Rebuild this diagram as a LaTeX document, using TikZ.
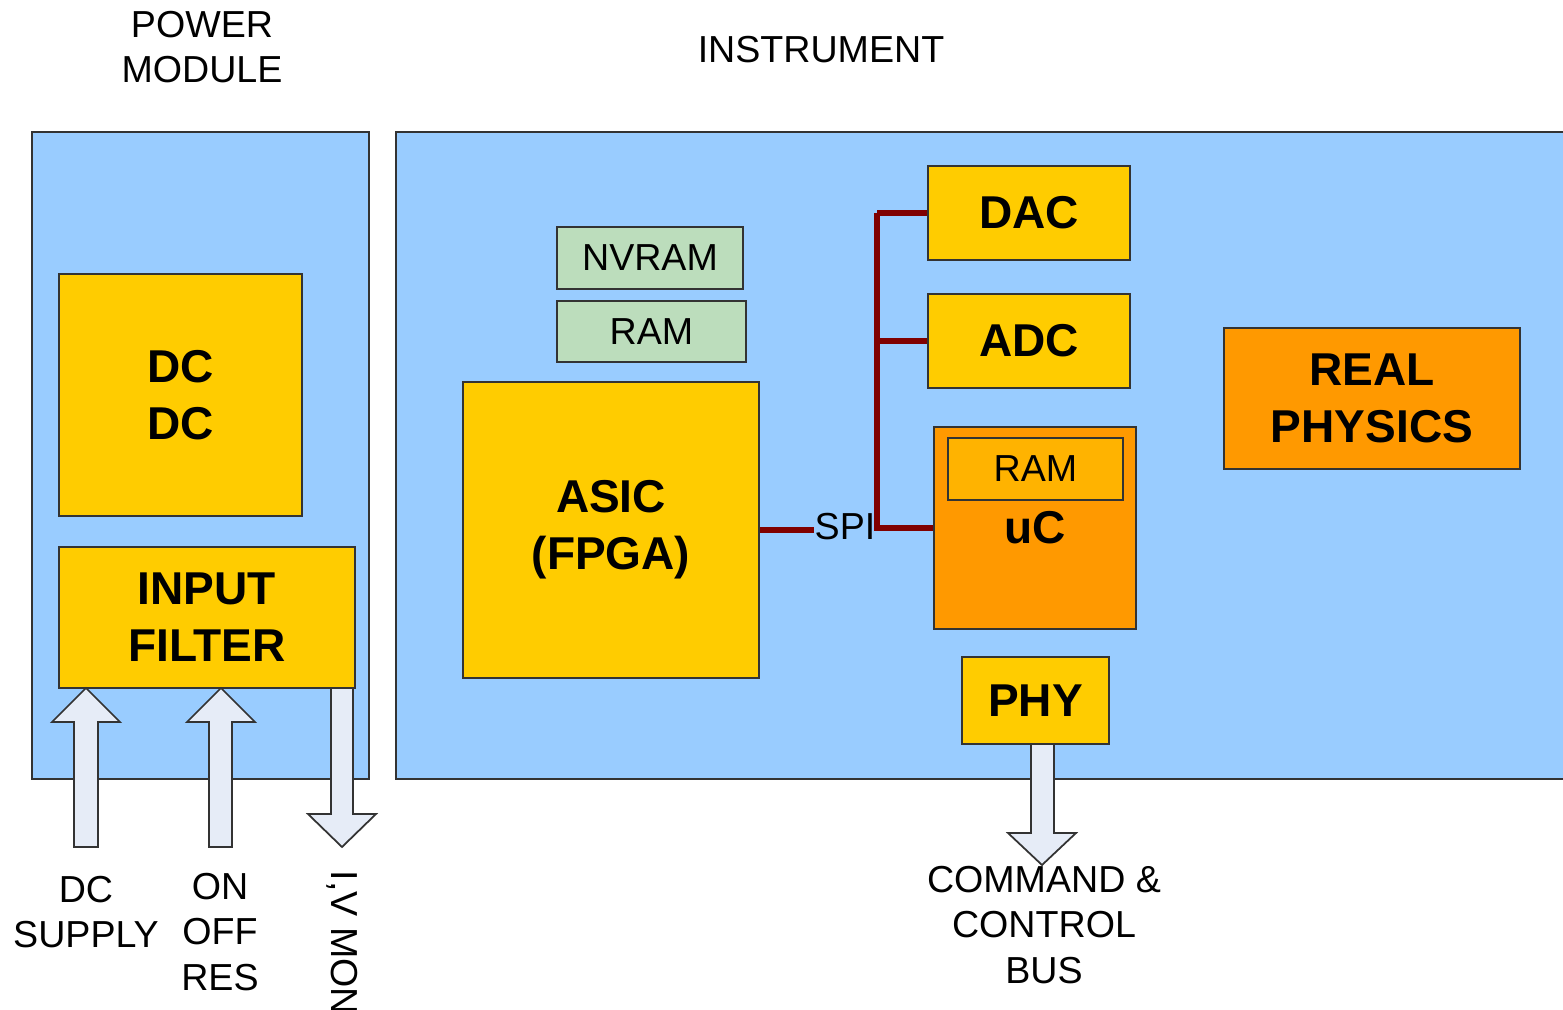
\documentclass[tikz,border=0pt]{standalone}
\usepackage{fontspec}
\setmainfont{Liberation Sans}
\usetikzlibrary{fit}
\definecolor{panelblue}{HTML}{99CCFF}
\definecolor{gold}{HTML}{FFCC00}
\definecolor{amber}{HTML}{FF9900}
\definecolor{amberlight}{HTML}{FFB300}
\definecolor{sage}{HTML}{BCDDBC}
\definecolor{busred}{HTML}{800000}
\definecolor{arrowfill}{HTML}{E6ECF7}
\newcommand\lblfont{\fontsize{10.7}{12.9}\selectfont}
\newcommand\blkfont{\fontsize{13.1}{16.2}\selectfont\bfseries}
\tikzset{
  outline/.style={draw=black!80, line width=0.5pt},
  box/.style={outline, inner sep=0pt},
  block/.style={box, fill=gold},
  hotblock/.style={box, fill=amber},
  memory/.style={box, fill=sage},
  blocktext/.style={align=center, font=\blkfont, inner sep=0pt},
  caption/.style={align=center, font=\lblfont, inner sep=0pt},
  bus/.style={draw=busred, line width=1.45pt},
  fatarrow/.style={outline, fill=arrowfill, line join=miter}
}
\begin{document}
\begin{tikzpicture}[x=0.1mm, y=-0.1mm]
  \clip (0,0) rectangle (1563,1010);
  \fill[white] (0,0) rectangle (1563,1010);

  % enclosures
  \fill[panelblue] (32,132) rectangle (369,779);
  \draw[outline] (32,132) rectangle (369,779);
  \fill[panelblue] (396,132) rectangle (1580,779);
  \draw[outline] (1580,132) -- (396,132) -- (396,779) -- (1580,779);

  \node[caption] (pmtitle) at (202,47) {POWER\\MODULE};
  \node[caption] (insttitle) at (821,50) {INSTRUMENT};

  % power module
  \node[block, fit={(59,274) (302,516)}] (dcdc) {};
  \node[blocktext] (dcdctext) at (dcdc.center) {DC\\DC};
  \node[block, fit={(59,547) (355,688)}] (filter) {};
  \node[blocktext] (filtertext) at (filter.center) {INPUT\\FILTER};

  % instrument
  \node[memory, fit={(557,227) (743,289)}] (nvram) {};
  \node[caption] (nvramtext) at (nvram.center) {NVRAM};
  \node[memory, fit={(557,301) (746,362)}] (ram) {};
  \node[caption] (ramtext) at (ram.center) {RAM};
  \node[block, fit={(463,382) (759,678)}] (asic) {};
  \node[blocktext] (asictext) at (asic.center) {ASIC\\(FPGA)};
  \node[block, fit={(928,166) (1130,260)}] (dac) {};
  \node[blocktext] (dactext) at (dac.center) {DAC};
  \node[block, fit={(928,294) (1130,388)}] (adc) {};
  \node[blocktext] (adctext) at (adc.center) {ADC};
  \node[hotblock, fit={(934,427) (1136,629)}] (uc) {};
  \node[blocktext] (uctext) at (uc.center) {uC};
  \node[box, fill=amberlight, fit={(948,438) (1123,500)}] (ucram) {};
  \node[caption] (ucramtext) at (ucram.center) {RAM};
  \node[block, fit={(962,657) (1109,744)}] (phy) {};
  \node[blocktext] (phytext) at (phy.center) {PHY};
  \node[hotblock, fit={(1224,328) (1520,469)}] (physics) {};
  \node[blocktext] (physicstext) at (physics.center) {REAL\\PHYSICS};

  % SPI bus
  \node[caption] (spi) at (845,527) {SPI};
  \coordinate (bustop) at (877,213);
  \coordinate (busadc) at (877,341);
  \coordinate (busbot) at (877,528);
  \draw[bus] (asic.east) -- (asic.east -| spi.west);
  \draw[bus] (bustop) -- (busbot) -- (uc.west);
  \draw[bus] (bustop) -- (dac.west);
  \draw[bus] (busadc) -- (adc.west);

  % block arrows
  \draw[fatarrow] (86,688) -- (120,722) -- (98,722) -- (98,847) -- (74,847)
    -- (74,722) -- (52,722) -- cycle;
  \draw[fatarrow] (221,688) -- (255,722) -- (232,722) -- (232,847) -- (209,847)
    -- (209,722) -- (187,722) -- cycle;
  \draw[fatarrow] (331,688) -- (353,688) -- (353,814) -- (376,814) -- (342,847)
    -- (308,814) -- (331,814) -- cycle;
  \draw[fatarrow] (1031,744) -- (1054,744) -- (1054,833) -- (1076,833) -- (1042,865)
    -- (1008,833) -- (1031,833) -- cycle;

  % external signal labels
  \node[caption] (dcsupply) at (86,912) {DC\\SUPPLY};
  \node[caption] (onoff) at (220,932) {ON\\OFF\\RES};
  \node[caption, rotate=-90, anchor=west] (ivmon) at (342,870) {I,V MON};
  \node[caption] (cmdbus) at (1044,925) {COMMAND \&\\CONTROL\\BUS};
\end{tikzpicture}
\end{document}
